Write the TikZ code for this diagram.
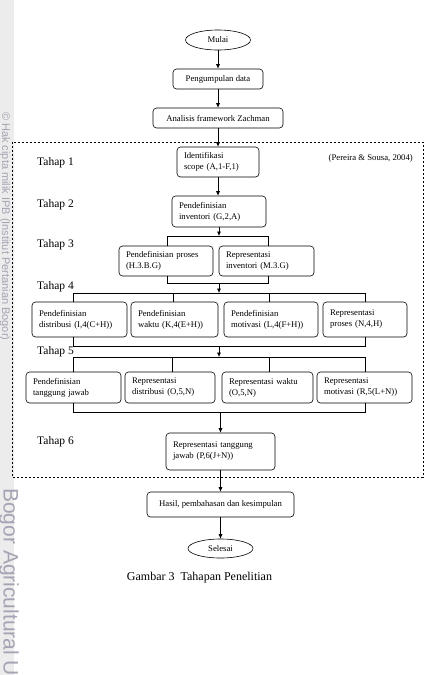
\documentclass[tikz,border=0pt]{standalone}
\usepackage{fontspec}
\setmainfont{Liberation Serif}
\newfontfamily\wmfont{Liberation Sans}
\usetikzlibrary{arrows.meta,shapes.geometric}
\definecolor{wmgray}{HTML}{A4A4B4}
\definecolor{strip}{HTML}{ECECEC}
\begin{document}
\begin{tikzpicture}[x=1pt,y=-1pt,
  every node/.style={inner sep=0pt},
  box/.style={draw,rounded corners=3.5pt,line width=0.6pt,font=\fontsize{8.7}{11}\selectfont},
  lbox/.style={box,align=left,inner xsep=7pt},
  cbox/.style={box,align=center},
  term/.style={draw,ellipse,line width=0.6pt,font=\fontsize{8.7}{11}\selectfont},
  stage/.style={anchor=west,font=\fontsize{11.5}{13}\selectfont},
  conn/.style={line width=0.6pt},
  arr/.style={conn,-{Latex[length=4.5pt,width=4pt]}}]
\useasboundingbox (0,0) rectangle (425,675);
% watermark strip
\fill[strip] (0,0) rectangle (14,675);
\node[wmgray,rotate=-90,font=\wmfont\fontsize{11}{12}\selectfont,anchor=west] (wm1) at (5,112) {\textcopyright\ Hak cipta milik IPB (Institut Pertanian Bogor)};
\begin{scope}
\clip (0,0) rectangle (425,675);
\node[wmgray,rotate=-90,font=\wmfont\fontsize{21}{22}\selectfont,anchor=west] (wm2) at (9,488) {Bogor Agricultural Un};
\end{scope}
% dashed frame
\draw[line width=0.5pt,dash pattern=on 2.2pt off 1.8pt] (12,142) rectangle (423,477);
% top column
\node[term,minimum width=65,minimum height=20] (mulai) at (218,40) {Mulai};
\node[cbox,minimum width=90,minimum height=20] (peng) at (218,79) {Pengumpulan data};
\node[cbox,minimum width=130,minimum height=20] (anal) at (218,118) {Analisis framework Zachman};
\node[lbox,text width=68,minimum height=30] (ident) at (218,162) {Identifikasi\\scope (A,1-F,1)};
\node[lbox,text width=80,minimum height=31] (inv) at (219,211.5) {Pendefinisian\\inventori (G,2,A)};
% row 3
\node[lbox,text width=80,minimum height=30] (p3a) at (166,261) {Pendefinisian proses\\(H.3.B.G)};
\node[lbox,text width=81,minimum height=30] (p3b) at (266.5,261) {Representasi\\inventori (M.3.G)};
% row 4
\node[lbox,text width=81,minimum height=35] (p4a) at (79.5,319.5) {Pendefinisian\\distribusi (I,4(C+H))};
\node[lbox,text width=73,minimum height=35] (p4b) at (174.5,319.5) {Pendefinisian\\waktu (K,4(E+H))};
\node[lbox,text width=80,minimum height=35] (p4c) at (271,319.5) {Pendefinisian\\motivasi (L,4(F+H))};
\node[lbox,text width=70,minimum height=35] (p4d) at (365,319.5) {Representasi\\proses (N,4,H)};
% row 5
\node[lbox,text width=81,minimum height=31] (p5a) at (73.5,387.5) {Pendefinisian\\tanggung jawab};
\node[lbox,text width=76,minimum height=31] (p5b) at (170,387.5) {Representasi\\distribusi (O,5,N)};
\node[lbox,text width=77,minimum height=31] (p5c) at (267.5,387.5) {Representasi waktu\\(O,5,N)};
\node[lbox,text width=81,minimum height=31] (p5d) at (364.5,387.5) {Representasi\\motivasi (R,5(L+N))};
% row 6 and end
\node[lbox,text width=95,minimum height=37] (p6) at (220.5,451.5) {Representasi tanggung\\jawab (P,6(J+N))};
\node[cbox,minimum width=147,minimum height=25] (hasil) at (220.5,504.5) {Hasil, pembahasan dan kesimpulan};
\node[term,minimum width=65,minimum height=19] (selesai) at (220.5,548.5) {Selesai};
% labels
\node[stage] (t1) at (37,163) {Tahap 1};
\node[stage] (t2) at (37,205) {Tahap 2};
\node[stage] (t3) at (37,245) {Tahap 3};
\node[stage] (t4) at (37,287) {Tahap 4};
\node[stage] (t5) at (37,352) {Tahap 5};
\node[stage] (t6) at (37,442) {Tahap 6};
\node[anchor=east,font=\fontsize{8.7}{10}\selectfont] (ref) at (413,158) {(Pereira \& Sousa, 2004)};
\node[font=\fontsize{12}{14}\selectfont] (cap) at (199.5,578) {Gambar 3\ \ Tahapan Penelitian};
% main arrows
\draw[arr] (mulai.south) -- (mulai.south |- peng.north);
\draw[arr] (peng.south) -- (peng.south |- anal.north);
\draw[arr] (anal.south) -- (anal.south |- ident.north);
\draw[arr] (ident.south) -- (ident.south |- inv.north);
% stage 3 bus
\coordinate (s3l) at (167,236); \coordinate (s3r) at (268,236);
\coordinate (m3l) at (167,283); \coordinate (m3r) at (268,283);
\draw[arr] (inv.south) -- (inv.south |- s3l);
\draw[conn] (s3l |- p3a.north) -- (s3l) -- (s3r) -- (s3r |- p3b.north);
\draw[conn] (m3l |- p3a.south) -- (m3l) -- (m3r) -- (m3r |- p3b.south);
% stage 4 bus
\coordinate (m3c) at (219,283);
\coordinate (s4l) at (73,293); \coordinate (s4b) at (173,293); \coordinate (s4c) at (269,293); \coordinate (s4r) at (365,293);
\draw[arr] (m3c) -- (m3c |- s4l);
\draw[conn] (s4l |- p4a.north) -- (s4l) -- (s4r) -- (s4r |- p4d.north);
\draw[conn] (s4b) -- (s4b |- p4b.north);
\draw[conn] (s4c) -- (s4c |- p4c.north);
\coordinate (m4l) at (73,346); \coordinate (m4r) at (365,346); \coordinate (m4c) at (219,346);
\draw[conn] (m4l |- p4a.south) -- (m4l) -- (m4r) -- (m4r |- p4d.south);
% stage 5 bus
\coordinate (s5l) at (73,357); \coordinate (s5b) at (172,357); \coordinate (s5c) at (269,357); \coordinate (s5r) at (365,357);
\draw[arr] (m4c) -- (m4c |- s5l);
\draw[conn] (s5l |- p5a.north) -- (s5l) -- (s5r) -- (s5r |- p5d.north);
\draw[conn] (s5b) -- (s5b |- p5b.north);
\draw[conn] (s5c) -- (s5c |- p5c.north);
\coordinate (m5l) at (73,412); \coordinate (m5r) at (365,412); \coordinate (m5c) at (220.5,412);
\draw[conn] (m5l |- p5a.south) -- (m5l) -- (m5r) -- (m5r |- p5d.south);
\draw[arr] (m5c) -- (m5c |- p6.north);
\draw[arr] (p6.south) -- (p6.south |- hasil.north);
\draw[arr] (hasil.south) -- (hasil.south |- selesai.north);
\end{tikzpicture}
\end{document}
